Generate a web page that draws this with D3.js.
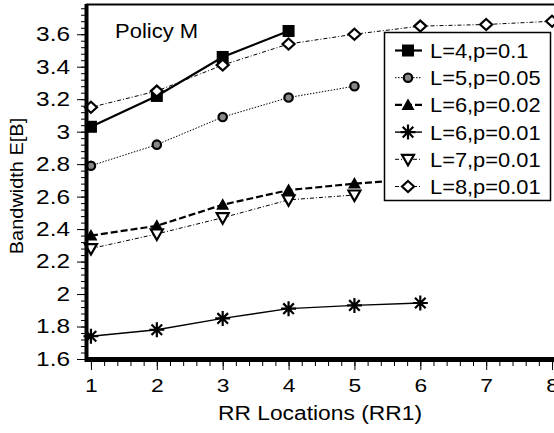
<!DOCTYPE html>
<html>
<head>
<meta charset="utf-8">
<script src="https://cdn.jsdelivr.net/npm/d3@7"></script>
<style>
  html, body { margin: 0; padding: 0; background: #fff; }
  svg { display: block; font-family: "Liberation Sans", Arial, sans-serif; }
</style>
</head>
<body>
<div id="chart"></div>
<script>
/* ===== Data ===== */
const xTicks = [1, 2, 3, 4, 5, 6, 7, 8];
const yTicks = [1.6, 1.8, 2, 2.2, 2.4, 2.6, 2.8, 3, 3.2, 3.4, 3.6];

const seriesNames = ["L=4,p=0.1", "L=5,p=0.05", "L=6,p=0.02", "L=6,p=0.01", "L=7,p=0.01", "L=8,p=0.01"];
const l4p10  = [3.03, 3.22, 3.46, 3.62];
const l5p05  = [2.79, 2.92, 3.09, 3.21, 3.28];
const l6p02  = [2.36, 2.42, 2.55, 2.64, 2.68, 2.71];
const l6p01  = [1.74, 1.78, 1.85, 1.91, 1.93, 1.945];
const l7p01  = [2.28, 2.37, 2.47, 2.58, 2.61];
const l8p01  = [3.15, 3.25, 3.41, 3.54, 3.60, 3.65, 3.66, 3.68];

/* ===== Styles ===== */
const styles = [
  { values: l4p10, marker: "square",  width: 2.2, dash: null },
  { values: l5p05, marker: "circle",  width: 1,   dash: "1.5,1.5" },
  { values: l6p02, marker: "triUp",   width: 2.2, dash: "7,3" },
  { values: l6p01, marker: "star",    width: 1.4, dash: null },
  { values: l7p01, marker: "triDown", width: 1,   dash: "4,2,1,2" },
  { values: l8p01, marker: "diamond", width: 1,   dash: "4,2,1,2" },
];

const W = 554, H = 433;
const svg = d3.select("#chart").append("svg").attr("width", W).attr("height", H);

const x = d3.scaleLinear().domain([0.94, 8.06]).range([87, 556]);
const y = d3.scaleLinear().domain([1.6, 3.78]).range([359, 5]);

// widen text a bit (the reference font is broad)
function stretch(sel, k) {
  sel.each(function () {
    const len = this.getComputedTextLength();
    d3.select(this).attr("textLength", len * k).attr("lengthAdjust", "spacingAndGlyphs");
  });
}

/* ===== Markers ===== */
function drawMarker(g, type, cx, cy) {
  if (type === "square") {
    g.append("rect").attr("x", cx - 6).attr("y", cy - 6).attr("width", 12).attr("height", 12)
      .attr("fill", "#000");
  } else if (type === "circle") {
    g.append("circle").attr("cx", cx).attr("cy", cy).attr("r", 4.2)
      .attr("fill", "#888").attr("stroke", "#000").attr("stroke-width", 2.2);
  } else if (type === "triUp") {
    g.append("path").attr("d", `M${cx},${cy - 6.5} L${cx + 6.5},${cy + 5} L${cx - 6.5},${cy + 5} Z`)
      .attr("fill", "#000");
  } else if (type === "triDown") {
    g.append("path").attr("d", `M${cx - 6},${cy - 4.5} L${cx + 6},${cy - 4.5} L${cx},${cy + 6} Z`)
      .attr("fill", "#fff").attr("stroke", "#000").attr("stroke-width", 2.2);
  } else if (type === "diamond") {
    g.append("path").attr("d", `M${cx},${cy - 5.5} L${cx + 6},${cy} L${cx},${cy + 5.5} L${cx - 6},${cy} Z`)
      .attr("fill", "#fff").attr("stroke", "#000").attr("stroke-width", 2.2);
  } else if (type === "star") {
    const r = 7.5;
    let d = "";
    for (let i = 0; i < 4; i++) {
      const a = i * Math.PI / 4;
      d += `M${cx + r * Math.cos(a)},${cy + r * Math.sin(a)} L${cx - r * Math.cos(a)},${cy - r * Math.sin(a)} `;
    }
    g.append("path").attr("d", d).attr("stroke", "#000").attr("stroke-width", 2.2);
  }
}

/* ===== Lines ===== */
const plot = svg.append("g");
const line = d3.line().x((d, i) => x(xTicks[i])).y(d => y(d));

styles.forEach(s => {
  plot.append("path")
    .attr("d", line(s.values))
    .attr("fill", "none")
    .attr("stroke", "#000")
    .attr("stroke-width", s.width)
    .attr("stroke-dasharray", s.dash);
  s.values.forEach((v, i) => drawMarker(plot, s.marker, x(xTicks[i]), y(v)));
});

/* ===== Axes ===== */
const yMinor = d3.range(1.6, 3.78, 0.04);
svg.append("g").attr("transform", "translate(85,0)")
  .call(d3.axisLeft(y).tickValues(yMinor).tickSize(4).tickFormat(""))
  .call(g => g.select(".domain").remove());
svg.append("g").attr("transform", "translate(85,0)")
  .call(d3.axisLeft(y).tickValues(yTicks).tickSize(8).tickPadding(7).tickFormat(d => String(+d.toFixed(1))))
  .call(g => g.select(".domain").remove())
  .call(g => g.selectAll("text").attr("font-size", 20).attr("font-family", "Liberation Sans, Arial, sans-serif")
    .attr("fill", "#000").call(stretch, 1.22));

const xMinor = d3.range(1, 8.01, 0.2);
svg.append("g").attr("transform", "translate(0,361)")
  .call(d3.axisBottom(x).tickValues(xMinor).tickSize(5).tickFormat(""))
  .call(g => g.select(".domain").remove());
svg.append("g").attr("transform", "translate(0,361)")
  .call(d3.axisBottom(x).tickValues(xTicks).tickSize(9).tickPadding(9).tickFormat(d3.format("d")))
  .call(g => g.select(".domain").remove())
  .call(g => g.selectAll("text").attr("font-size", 19).attr("font-family", "Liberation Sans, Arial, sans-serif")
    .attr("fill", "#000").call(stretch, 1.2));

// frame
svg.append("line").attr("x1", 86.5).attr("x2", 86.5).attr("y1", 4).attr("y2", 362)
  .attr("stroke", "#000").attr("stroke-width", 4);
svg.append("line").attr("x1", 85).attr("x2", W).attr("y1", 359.5).attr("y2", 359.5)
  .attr("stroke", "#000").attr("stroke-width", 5);
svg.append("line").attr("x1", 86).attr("x2", W).attr("y1", 4.5).attr("y2", 4.5)
  .attr("stroke", "#000").attr("stroke-width", 2);

/* ===== Titles ===== */
svg.append("text").attr("x", 320).attr("y", 420).attr("text-anchor", "middle")
  .attr("font-size", 20).text("RR Locations (RR1)").call(stretch, 1.14);
svg.append("text").attr("transform", "translate(23,186) rotate(-90)").attr("text-anchor", "middle")
  .attr("font-size", 19).text("Bandwidth E[B]").call(stretch, 1.05);
svg.append("text").attr("x", 115).attr("y", 38).attr("font-size", 20).text("Policy M").call(stretch, 1.1);

/* ===== Legend ===== */
const lg = svg.append("g");
lg.append("rect").attr("x", 384.5).attr("y", 32.5).attr("width", 166).attr("height", 168)
  .attr("fill", "#fff").attr("stroke", "#000").attr("stroke-width", 1.5);
styles.forEach((s, i) => {
  const cy = 50.5 + i * 27.2;
  lg.append("line").attr("x1", 395).attr("x2", 422).attr("y1", cy).attr("y2", cy)
    .attr("stroke", "#000").attr("stroke-width", s.width).attr("stroke-dasharray", s.dash);
  drawMarker(lg, s.marker, 408, cy);
  lg.append("text").attr("x", 430).attr("y", cy + 7.5).attr("font-size", 21).text(seriesNames[i]).call(stretch, 1.04);
});
</script>
</body>
</html>
